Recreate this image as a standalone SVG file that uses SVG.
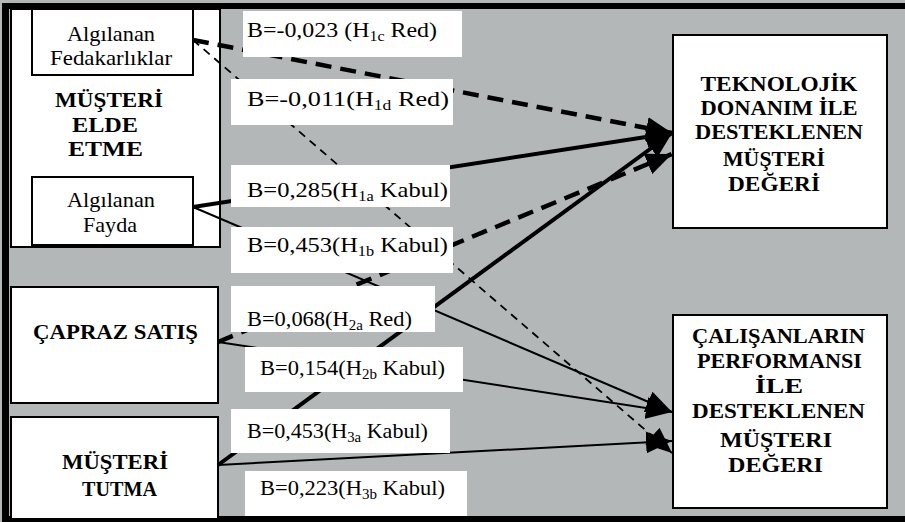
<svg xmlns="http://www.w3.org/2000/svg" width="905" height="522" viewBox="0 0 905 522">
<style>
.box{fill:#fff;stroke:#000;stroke-width:2}
.lbl{fill:#fff;stroke:none}
.t{font-family:'Liberation Serif','Tinos','DejaVu Serif',serif;font-size:21px;fill:#000}
.b{font-family:'Liberation Serif','Tinos','DejaVu Serif',serif;font-size:21px;font-weight:bold;fill:#000;text-anchor:middle}
.thick{stroke:#000;stroke-width:4;fill:none}
.thin{stroke:#000;stroke-width:2;fill:none}
.dthick{stroke:#000;stroke-width:4.5;fill:none;stroke-dasharray:16 9}
.dthin{stroke:#000;stroke-width:1.8;fill:none;stroke-dasharray:8 6}
</style>
<defs>
<marker id="ah" markerUnits="userSpaceOnUse" markerWidth="26" markerHeight="22" refX="26" refY="11" orient="auto" viewBox="0 0 26 22">
<path d="M0,0 L26,11 L0,22 z" fill="#000"/>
</marker>
</defs>
<rect x="0" y="0" width="905" height="522" fill="#b4b7b8"/>
<rect x="2" y="3" width="903" height="6" fill="#000"/>
<rect x="2" y="3" width="7" height="519" fill="#000"/>
<rect x="2" y="516" width="903" height="6" fill="#000"/>

<g id="musteri-elde-etme">
<rect class="box" x="11" y="9" width="209" height="238"/>
<text class="b" x="109" y="107" textLength="108" lengthAdjust="spacingAndGlyphs">MÜŞTERİ</text>
<text class="b" x="105" y="132" textLength="66" lengthAdjust="spacingAndGlyphs">ELDE</text>
<text class="b" x="105.5" y="156" textLength="75" lengthAdjust="spacingAndGlyphs">ETME</text>
</g>
<g id="algilanan-fedakarliklar">
<rect class="box" x="32" y="9" width="161" height="66"/>
<text class="t" x="111" y="41" text-anchor="middle" textLength="88" lengthAdjust="spacingAndGlyphs">Algılanan</text>
<text class="t" x="111" y="65" text-anchor="middle" textLength="122" lengthAdjust="spacingAndGlyphs">Fedakarlıklar</text>
</g>
<g id="algilanan-fayda">
<rect class="box" x="32" y="177" width="161" height="68"/>
<text class="t" x="111" y="207" text-anchor="middle" textLength="88" lengthAdjust="spacingAndGlyphs">Algılanan</text>
<text class="t" x="110" y="232" text-anchor="middle" textLength="54" lengthAdjust="spacingAndGlyphs">Fayda</text>
</g>
<g id="capraz-satis">
<rect class="box" x="11" y="287" width="207" height="116"/>
<text class="b" x="115.5" y="339" textLength="165" lengthAdjust="spacingAndGlyphs">ÇAPRAZ SATIŞ</text>
</g>
<g id="musteri-tutma">
<rect class="box" x="11" y="417" width="207" height="102"/>
<text class="b" x="115" y="469" textLength="106" lengthAdjust="spacingAndGlyphs">MÜŞTERİ</text>
<text class="b" x="119.5" y="496" textLength="75" lengthAdjust="spacingAndGlyphs">TUTMA</text>
</g>
<g id="teknolojik">
<rect class="box" x="673" y="35" width="214" height="193"/>
<text class="b" x="779" y="91" textLength="157" lengthAdjust="spacingAndGlyphs">TEKNOLOJİK</text>
<text class="b" x="779" y="115" textLength="157" lengthAdjust="spacingAndGlyphs">DONANIM İLE</text>
<text class="b" x="779" y="139" textLength="168" lengthAdjust="spacingAndGlyphs">DESTEKLENEN</text>
<text class="b" x="774" y="166" textLength="102" lengthAdjust="spacingAndGlyphs">MÜŞTERİ</text>
<text class="b" x="774" y="191" textLength="92" lengthAdjust="spacingAndGlyphs">DEĞERİ</text>
</g>
<g id="calisanlarin">
<rect class="box" x="673" y="315" width="214" height="193"/>
<text class="b" x="778.5" y="343" textLength="173" lengthAdjust="spacingAndGlyphs">ÇALIŞANLARIN</text>
<text class="b" x="779.5" y="368" textLength="165" lengthAdjust="spacingAndGlyphs">PERFORMANSI</text>
<text class="b" x="779" y="393" textLength="48" lengthAdjust="spacingAndGlyphs">İLE</text>
<text class="b" x="778.5" y="418" textLength="173" lengthAdjust="spacingAndGlyphs">DESTEKLENEN</text>
<text class="b" x="776" y="447" textLength="112" lengthAdjust="spacingAndGlyphs">MÜŞTERI</text>
<text class="b" x="775.5" y="472" textLength="95" lengthAdjust="spacingAndGlyphs">DEĞERI</text>
</g>

<g id="connectors">
<line class="dthick" x1="193" y1="40" x2="672" y2="133" marker-end="url(#ah)"/>
<line class="dthin" x1="193" y1="40" x2="672" y2="453" marker-end="url(#ah)"/>
<line class="thick" x1="193" y1="207" x2="672" y2="133" marker-end="url(#ah)"/>
<line class="thin" x1="193" y1="207" x2="672" y2="412" marker-end="url(#ah)"/>
<line class="dthick" x1="218" y1="342" x2="672" y2="154" marker-end="url(#ah)"/>
<line class="thin" x1="218" y1="342" x2="672" y2="412" marker-end="url(#ah)"/>
<line class="thick" x1="218" y1="465" x2="672" y2="133" marker-end="url(#ah)"/>
<line class="thin" x1="218" y1="465" x2="672" y2="441" marker-end="url(#ah)"/>
</g>

<g id="labels">
<rect class="lbl" x="243" y="11" width="219" height="46"/>
<text class="t" x="247" y="37" textLength="190" lengthAdjust="spacingAndGlyphs">B=-0,023 (H<tspan font-size="14" dy="4">1c</tspan><tspan dy="-4"> Red)</tspan></text>
<rect class="lbl" x="231" y="79" width="222" height="46"/>
<text class="t" x="247" y="106" textLength="202" lengthAdjust="spacingAndGlyphs">B=-0,011(H<tspan font-size="14" dy="4">1d</tspan><tspan dy="-4"> Red)</tspan></text>
<rect class="lbl" x="231" y="165" width="219" height="42"/>
<text class="t" x="247" y="197" textLength="201" lengthAdjust="spacingAndGlyphs">B=0,285(H<tspan font-size="14" dy="4">1a</tspan><tspan dy="-4"> Kabul)</tspan></text>
<rect class="lbl" x="231" y="227" width="222" height="46"/>
<text class="t" x="247" y="252" textLength="201" lengthAdjust="spacingAndGlyphs">B=0,453(H<tspan font-size="14" dy="4">1b</tspan><tspan dy="-4"> Kabul)</tspan></text>
<rect class="lbl" x="231" y="286" width="204" height="46"/>
<text class="t" x="247" y="326" textLength="165" lengthAdjust="spacingAndGlyphs">B=0,068(H<tspan font-size="14" dy="4">2a</tspan><tspan dy="-4"> Red)</tspan></text>
<rect class="lbl" x="245" y="347" width="218" height="45"/>
<text class="t" x="260" y="375" textLength="185" lengthAdjust="spacingAndGlyphs">B=0,154(H<tspan font-size="14" dy="4">2b</tspan><tspan dy="-4"> Kabul)</tspan></text>
<rect class="lbl" x="231" y="409" width="219" height="44"/>
<text class="t" x="247" y="438" textLength="181" lengthAdjust="spacingAndGlyphs">B=0,453(H<tspan font-size="14" dy="4">3a</tspan><tspan dy="-4"> Kabul)</tspan></text>
<rect class="lbl" x="245" y="471" width="222" height="45"/>
<text class="t" x="260" y="495" textLength="185" lengthAdjust="spacingAndGlyphs">B=0,223(H<tspan font-size="14" dy="4">3b</tspan><tspan dy="-4"> Kabul)</tspan></text>
</g>
</svg>
